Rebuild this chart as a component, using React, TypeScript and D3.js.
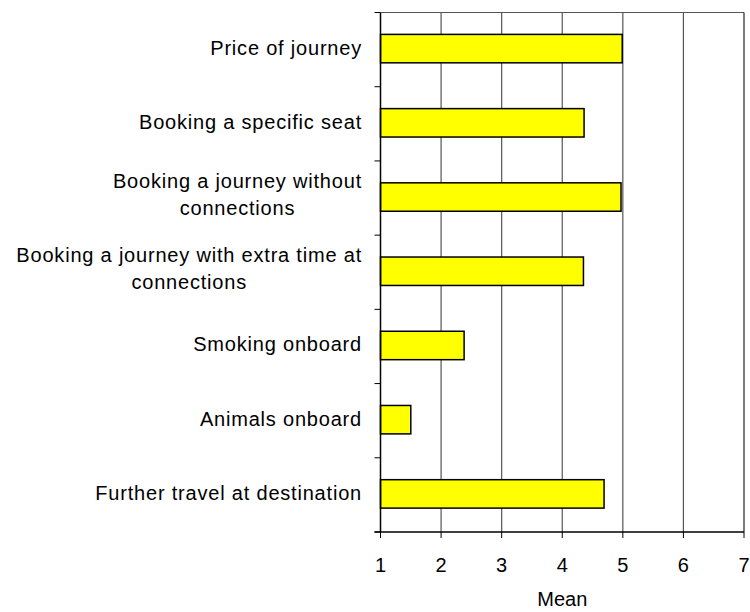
import React, { useEffect, useRef } from "react";
import * as d3 from "d3";

const categories: string[][] = [
  ["Price of journey"],
  ["Booking a specific seat"],
  ["Booking a journey without", "connections"],
  ["Booking a journey with extra time at", "connections"],
  ["Smoking onboard"],
  ["Animals onboard"],
  ["Further travel at destination"],
];
const means: number[] = [4.99, 4.36, 4.97, 4.35, 2.38, 1.5, 4.69];
const xTicks: number[] = [1, 2, 3, 4, 5, 6, 7];
const xTitle = "Mean";

const W = 750;
const H = 612;
const plot = { left: 380.5, right: 744, top: 12.5, bottom: 532 };

export default function App() {
  const ref = useRef<SVGSVGElement | null>(null);

  useEffect(() => {
    const svg = d3.select(ref.current);
    svg.selectAll("*").remove();

    const x = d3.scaleLinear().domain([1, 7]).range([plot.left, plot.right]);
    const keys = categories.map((_, i) => String(i));
    const y = d3.scaleBand<string>().domain(keys).range([plot.top, plot.bottom]).padding(0);
    const barH = y.bandwidth() * 0.383;

    // top border
    svg.append("line")
      .attr("x1", plot.left).attr("x2", plot.right)
      .attr("y1", plot.top).attr("y2", plot.top)
      .attr("stroke", "#555").attr("stroke-width", 1.2);

    // vertical gridlines
    svg.append("g").selectAll("line")
      .data(xTicks.slice(1))
      .join("line")
      .attr("x1", (d) => x(d)).attr("x2", (d) => x(d))
      .attr("y1", plot.top).attr("y2", plot.bottom)
      .attr("stroke", (d) => (d === 7 ? "#222" : "#555"))
      .attr("stroke-width", 1.2);

    // bars
    svg.append("g").selectAll("rect")
      .data(means)
      .join("rect")
      .attr("x", x(1))
      .attr("y", (_, i) => (y(String(i)) as number) + y.bandwidth() / 2 - barH / 2 - 1)
      .attr("width", (d) => x(d) - x(1))
      .attr("height", barH)
      .attr("fill", "#FFFF00")
      .attr("stroke", "#000")
      .attr("stroke-width", 1.5);

    // left axis
    const yAxisG = svg.append("g");
    yAxisG.append("line")
      .attr("x1", plot.left).attr("x2", plot.left)
      .attr("y1", plot.top).attr("y2", plot.bottom)
      .attr("stroke", "#000").attr("stroke-width", 1.5);
    const boundaries = keys.map((k) => y(k) as number).concat([plot.bottom]);
    yAxisG.selectAll("line.tick")
      .data(boundaries)
      .join("line")
      .attr("class", "tick")
      .attr("x1", plot.left - 6).attr("x2", plot.left)
      .attr("y1", (d) => d).attr("y2", (d) => d)
      .attr("stroke", "#000").attr("stroke-width", 1);

    // bottom axis
    const xAxisG = svg.append("g");
    xAxisG.append("line")
      .attr("x1", plot.left - 6).attr("x2", plot.right)
      .attr("y1", plot.bottom).attr("y2", plot.bottom)
      .attr("stroke", "#000").attr("stroke-width", 1.5);
    xAxisG.selectAll("line.tick")
      .data(xTicks)
      .join("line")
      .attr("class", "tick")
      .attr("x1", (d) => x(d)).attr("x2", (d) => x(d))
      .attr("y1", plot.bottom).attr("y2", plot.bottom + 6)
      .attr("stroke", "#000").attr("stroke-width", 1);
    xAxisG.selectAll("text")
      .data(xTicks)
      .join("text")
      .attr("x", (d) => x(d))
      .attr("y", 571.5)
      .attr("text-anchor", "middle")
      .attr("font-family", "Liberation Sans, Arial, sans-serif")
      .attr("font-size", 20)
      .attr("fill", "#000")
      .text((d) => String(d));

    svg.append("text")
      .attr("x", (plot.left + plot.right) / 2)
      .attr("y", 606)
      .attr("text-anchor", "middle")
      .attr("font-family", "Liberation Sans, Arial, sans-serif")
      .attr("font-size", 20)
      .attr("fill", "#000")
      .text(xTitle);

    // category labels
    const lineH = 26.7;
    const labelRight = 362;
    categories.forEach((lines, i) => {
      const cy = (y(String(i)) as number) + y.bandwidth() / 2;
      const g = svg.append("g");
      const t = g.append("text")
        .attr("text-anchor", "middle")
        .attr("font-family", "Liberation Sans, Arial, sans-serif")
        .attr("font-size", 20)
        .attr("letter-spacing", 0.8)
        .attr("fill", "#000");
      const n = lines.length;
      lines.forEach((ln, j) => {
        t.append("tspan")
          .attr("x", 0)
          .attr("y", (j - (n - 1) / 2) * lineH + 7)
          .text(ln);
      });
      const bb = (t.node() as SVGTextElement).getBBox();
      g.attr("transform", `translate(${labelRight - bb.width / 2},${cy - 2 - (n - 1) * 1.5})`);
    });
  }, []);

  return (
    <svg
      ref={ref}
      width={W}
      height={H}
      style={{ position: "absolute", left: 0, top: 0, background: "#fff" }}
    />
  );
}
